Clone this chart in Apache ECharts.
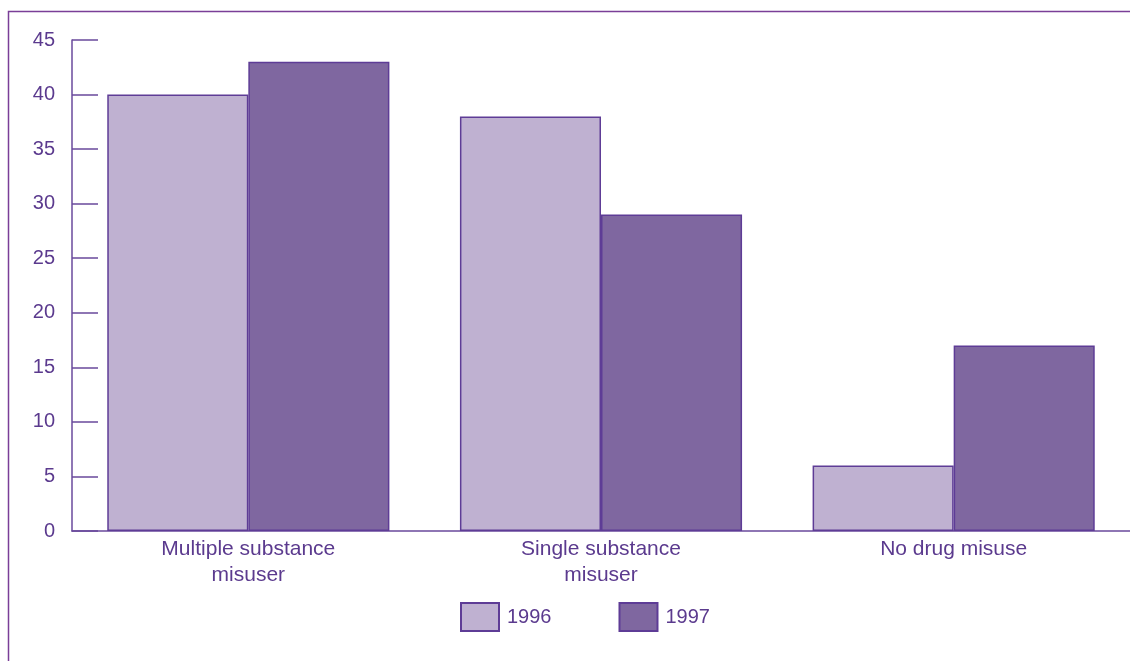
<!DOCTYPE html>
<html>
<head>
<meta charset="utf-8">
<script src="https://cdn.jsdelivr.net/npm/echarts@6/dist/echarts.min.js"></script>
<style>html,body{margin:0;padding:0;background:#fff}#c{width:1130px;height:661px}</style>
</head>
<body>
<div id="c"></div>
<script>
var categories = ['Multiple substance\nmisuser', 'Single substance\nmisuser', 'No drug misuse'];
var values1996 = [40, 38, 6];
var values1997 = [43, 29, 17];
var seriesNames = ['1996', '1997'];

var textColor = '#5B3A8E';
var lineColor = '#6A4A9C';
var chart = echarts.init(document.getElementById('c'));
chart.setOption({
  animation: false,
  textStyle: {fontFamily: 'Liberation Sans, Arial, sans-serif'},
  graphic: [{
    type: 'rect', left: 6, top: 9, z: -1,
    shape: {width: 1200, height: 720},
    style: {fill: 'none', stroke: '#7A3E97', lineWidth: 1.5}
  }],
  grid: {left: 72, right: 0, top: 40, bottom: 130, containLabel: false},
  legend: {
    left: 455, top: 597, itemWidth: 38, itemHeight: 28, itemGap: 67,
    icon: 'rect',
    textStyle: {color: textColor, fontSize: 20, padding: [0, 0, 0, 3]},
    data: seriesNames
  },
  xAxis: {
    type: 'category', data: categories,
    axisLine: {lineStyle: {color: lineColor, width: 1.5}},
    axisTick: {inside: true, length: 12, lineStyle: {color: lineColor, width: 1.5}},
    axisLabel: {color: textColor, fontSize: 21, lineHeight: 26, margin: 5}
  },
  yAxis: {
    type: 'value', min: 0, max: 45, interval: 5,
    splitLine: {show: false},
    axisLine: {show: true, lineStyle: {color: lineColor, width: 1.5}},
    axisTick: {show: true, inside: true, length: 26, lineStyle: {color: lineColor, width: 1.5}},
    axisLabel: {color: textColor, fontSize: 20, margin: 17}
  },
  series: [{
    name: seriesNames[0], type: 'bar', data: values1996,
    barGap: '0%', barCategoryGap: '20%',
    itemStyle: {color: '#BFB1D1', borderColor: '#5E3C96', borderWidth: 1.5}
  }, {
    name: seriesNames[1], type: 'bar', data: values1997,
    barGap: '0%', barCategoryGap: '20%',
    itemStyle: {color: '#7F67A0', borderColor: '#5E3C96', borderWidth: 1.5}
  }]
});
</script>
</body>
</html>
